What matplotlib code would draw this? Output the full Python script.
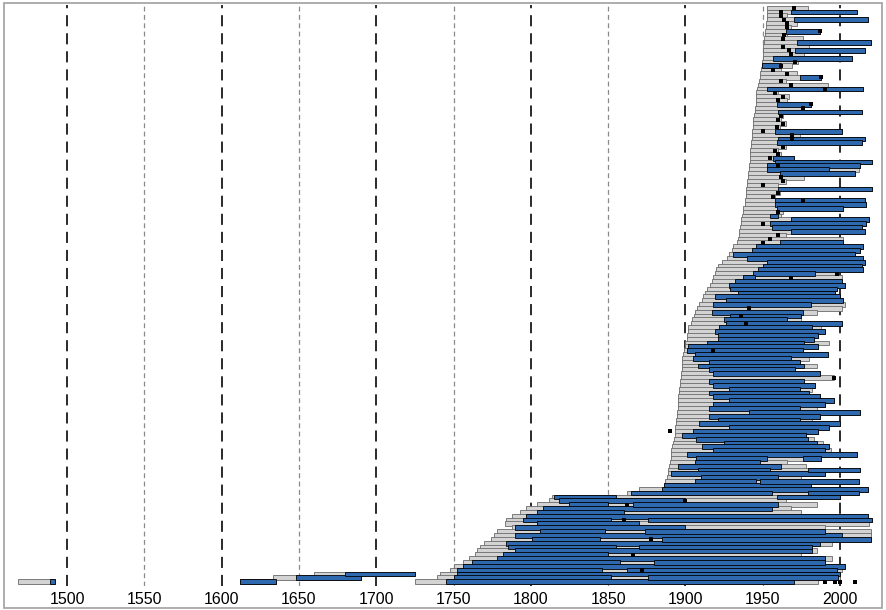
import numpy as np
import matplotlib
matplotlib.use("Agg")
import matplotlib.pyplot as plt
from matplotlib.patches import Rectangle

plt.rcParams['font.family'] = ['Liberation Sans', 'DejaVu Sans']
plt.rcParams['lines.scale_dashes'] = False

# one row per series, listed from the top of the chart to the bottom
# start = first year (grey), end = last year, blue_start/blue_end = blue part, mark = black dot
start = [1953, 1953, 1952.5, 1952.5, 1952, 1952, 1951.5, 1951.5, 1951, 1951,
         1950.5, 1950.5, 1950, 1950, 1949.5, 1949.5, 1949, 1948.5, 1948, 1947.5,
         1947, 1946.5, 1946, 1946, 1945.5, 1945.5, 1945, 1945, 1944.5, 1944,
         1943.5, 1943.5, 1943, 1943, 1943, 1942.5, 1942.5, 1942, 1942, 1941.5,
         1941.5, 1941, 1941, 1940.5, 1940.5, 1940, 1940, 1939.5, 1939.5, 1939,
         1938.5, 1938.5, 1937, 1937, 1936.5, 1936, 1936, 1935.5, 1935, 1935,
         1934, 1933.5, 1931, 1930, 1928, 1927, 1924, 1921, 1920, 1919,
         1918, 1917, 1916, 1914, 1913, 1911.5, 1911, 1909, 1907.5, 1906.5,
         1905.5, 1904.5, 1903.5, 1902, 1901.5, 1901, 1901, 1900, 1899.5, 1899,
         1898.5, 1898, 1898, 1897.5, 1897.5, 1897, 1897, 1896.5, 1896.5, 1896,
         1896, 1895.5, 1895.5, 1895, 1895, 1894.5, 1894.5, 1894, 1894, 1893.5,
         1893, 1893, 1892.5, 1892, 1891.5, 1891, 1891, 1890.5, 1890, 1889.5,
         1889, 1888.5, 1888, 1887, 1886, 1870, 1862, 1814, 1812, 1804,
         1797, 1793, 1788, 1784, 1783, 1788, 1778, 1776, 1774, 1770,
         1767, 1765, 1764, 1760, 1756, 1750, 1748, 1741, 1739, 1725]

end = [1979, 2011, 1966, 2018, 1972, 1968, 1987, 1966, 1976, 2020,
       1980, 2016, 1977, 2008, 1973, 1969, 1962, 1972, 1988, 1965,
       1992, 2015, 1960, 1967, 1966, 1981, 1976, 2014, 1963, 1962,
       1965, 1961, 2001, 1974, 2016, 2014, 1965, 1960, 1962, 1970,
       2021, 2013, 2012, 2010, 1977, 1965, 1960, 2021, 1961, 1958,
       2016, 2017, 2002, 1963, 1962, 2019, 2017, 2014, 2016, 1965,
       2002, 2002, 2015, 2013, 2010, 2015, 2016, 2014, 2015, 1999,
       2001, 2001, 2003, 1998, 1997, 2000, 2002, 2003, 2001, 1985,
       1975, 1975, 2001, 1988, 1990, 1986, 1983, 1993, 1986, 1976,
       1992, 1980, 1974, 1985, 1971, 1987, 1996, 1977, 1984, 1982,
       1980, 1987, 1996, 1990, 1985, 2013, 1987, 1982, 2000, 1993,
       1986, 1978, 1983, 1989, 1993, 1994, 2011, 1988, 1966, 1978,
       2013, 1990, 1975, 2012, 1981, 2018, 2012, 2000, 1965, 1985,
       1968, 1975, 2018, 2021, 2019, 1990, 2020, 2020, 2020, 1995,
       1982, 1985, 1975, 1995, 1990, 2003, 2001, 2000, 2000, 1986]

blue_start = [None, 1968, None, 1970, None, None, 1965, None, None, 1972,
              None, 1971, None, 1957, None, 1949.5, None, None, 1974, None,
              None, 1953, None, None, None, 1959, None, 1960, None, None,
              None, None, 1958, None, 1960, 1959, None, None, None, 1957,
              1958, 1953, 1953, 1961, None, None, None, 1960, None, None,
              1958, 1958, 1959, None, 1955, 1968, 1955, 1956, 1968, None,
              None, 1961, 1946, 1943, 1931, 1940, 1953, 1950, 1947, 1944,
              1937, 1932, 1928, 1929, 1934, 1919, 1926, 1918, None, 1917,
              1929, 1925, 1926, 1922, 1919, 1921, 1921, 1914, 1902, 1901,
              1906, 1905, 1915, 1908, 1915, 1918, None, 1915, 1918, 1928,
              1915, 1918, 1928, 1918, 1915, 1941, 1915, 1921, 1909, 1928,
              1905, 1898, 1907, 1925, 1911, 1918, 1901, 1907, 1906, 1895,
              1908, 1891, 1910, 1906, 1886, 1885, 1865, 1815, 1818, 1825,
              1808, 1804, 1797, 1795, 1804, 1790, 1806, 1790, 1801, 1784,
              1785, 1790, 1782, 1778, 1762, 1756, 1752, 1752, 1750, 1745]

blue_end = [None, 2011, None, 2018, None, None, 1987, None, None, 2020,
            None, 2016, None, 2008, None, 1962, None, None, 1988, None,
            None, 2015, None, None, None, 1981, None, 2014, None, None,
            None, None, 2001, None, 2016, 2014, None, None, None, 1970,
            2021, 2013, 1993, 2010, None, None, None, 2021, None, None,
            2016, 2017, 2002, None, 1960, 2019, 2017, 2014, 2016, None,
            None, 2002, 2015, 2013, 2010, 2015, 2016, 2014, 2015, 1984,
            1945, 2001, 2003, 1998, 1997, 2000, 2002, 1981, None, 1976,
            1975, 1966, 2001, 1982, 1990, 1986, 1983, 1977, 1986, 1976,
            1992, 1968, 1974, 1977, 1971, 1987, None, 1977, 1984, 1974,
            1980, 1987, 1996, 1990, 1974, 2013, 1987, 1974, 2000, 1993,
            1986, 1978, 1979, 1985, 1993, 1990, 2011, 1953, 1948, 1962,
            1955, 1990, 1960, 1946, 1981, 2018, 1956, 1855, 1900, 1850,
            1956, 1860, 2018, 1852, 1870, 1900, 1848, 2001, 1845, 1987,
            1855, 1982, 1850, 1990, 1858, 2003, 1846, 2000, 1852, 1970]

mark = [1970, 1962, 1962, 1964, 1966, 1966, 1987, 1964, 1963, None,
        1963, 1967, 1968, None, 1971, 1962, 1957, 1966, 1988, 1962,
        1968, 1990, 1958, 1963, 1960, 1981, 1976, None, 1962, 1960,
        1963, 1959, 1950, 1969, 1969, None, 1963, 1958, 1960, 1955,
        None, 1960, None, None, 1962, 1963, 1950, None, 1960, 1957,
        1976, None, None, 1960, None, None, 1950, None, None, 1960,
        1955, 1950, None, None, None, None, None, None, None, 1998,
        1968, None, None, None, None, None, None, None, 1941, None,
        1936, None, 1939, None, None, None, None, None, None, 1918,
        None, None, None, None, None, None, 1996, None, None, None,
        None, None, None, None, None, None, None, None, None, None,
        1890, None, None, None, None, None, None, None, None, None,
        None, None, None, None, None, None, None, None, 1900, 1862,
        None, None, None, 1860, None, None, None, None, 1878, None,
        None, None, 1866, None, None, None, 1872, None, None, 1990]

# second blue part on a few rows (row index counted from the top)
extra_row = [117, 120, 123, 126, 127, 129, 133, 136, 138, 140, 144, 146, 148]
extra_start = [1976, 1979, 1948, 1979, 1959, 1866, 1876, 1874, 1885, 1870, 1880, 1862, 1876]
extra_end = [1988, 2013, 2012, 2012, 2000, 1960, 2021, 1990, 2020, 1982, 1990, 1998, 1999]

# early series sharing the lowest rows
early_row = [149, 149, 148, 147]
early_start = [1468, 1612, 1633, 1660]
early_blue = [1489, 1612, 1648, 1680]
early_end = [1492, 1635, 1690, 1725]

# extra dots on the bottom row
dot_row = [149, 149, 149]
dot_year = [1997, 2000, 2010]

years = list(range(1500, 2001, 50))

start = np.array(start, dtype=float)
end = np.array(end, dtype=float)
blue_start = np.array(blue_start, dtype=float)
blue_end = np.array(blue_end, dtype=float)
mark = np.array(mark, dtype=float)
n = len(start)
ypos = np.arange(n)[::-1]

fig = plt.figure(figsize=(8.87, 6.10), dpi=100)
ax = fig.add_axes([10 / 887, 1 - 586 / 610, 868 / 887, 581 / 610])

h = 1.25
grey = '#d3d3d3'
blue = '#2e69b0'

# grey bars for the full span
ax.barh(ypos, end - start, left=start, height=h, color=grey,
        edgecolor='#6a6a6a', linewidth=0.6, zorder=2)
er = n - 1 - np.array(early_row)
ax.barh(er, np.array(early_end) - np.array(early_start), left=early_start,
        height=h, color=grey, edgecolor='#6a6a6a', linewidth=0.6, zorder=2)

# blue parts on top
ok = ~np.isnan(blue_start)
ax.barh(ypos[ok], blue_end[ok] - blue_start[ok], left=blue_start[ok], height=h,
        color=blue, edgecolor='black', linewidth=0.6, zorder=3)
xr = n - 1 - np.array(extra_row)
ax.barh(xr, np.array(extra_end) - np.array(extra_start), left=extra_start,
        height=h, color=blue, edgecolor='black', linewidth=0.6, zorder=3)
ax.barh(er, np.array(early_end) - np.array(early_blue), left=early_blue,
        height=h, color=blue, edgecolor='black', linewidth=0.6, zorder=3)

# black dots
okm = ~np.isnan(mark)
ax.scatter(mark[okm], ypos[okm], marker='s', s=6, color='black', zorder=4, linewidths=0)
ax.scatter(dot_year, n - 1 - np.array(dot_row), marker='s', s=6, color='black',
           zorder=4, linewidths=0)

# dashed reference lines
for yr in years:
    if yr % 100 == 0:
        ax.axvline(yr, color='#2a2a2a', linewidth=1.4, dashes=(8, 5), zorder=1)
    else:
        ax.axvline(yr, color='#8a8a8a', linewidth=0.9, dashes=(3.5, 2.5), zorder=1)

ax.set_xlim(1463.1, 2024.6)
ax.set_ylim(-1.14, n - 1 + 0.8)
ax.set_xticks(years)
ax.set_xticklabels([str(y) for y in years])
ax.set_yticks([])
ax.tick_params(axis='x', length=0, pad=4, labelsize=11.5)
for s in ax.spines.values():
    s.set_visible(False)

fig.patches.append(Rectangle((4 / 887, 2 / 610), 878 / 887, 605 / 610,
                             transform=fig.transFigure, fill=False,
                             edgecolor='#a0a0a0', linewidth=1.2))

plt.savefig("out.png", dpi=100)
plt.close()
